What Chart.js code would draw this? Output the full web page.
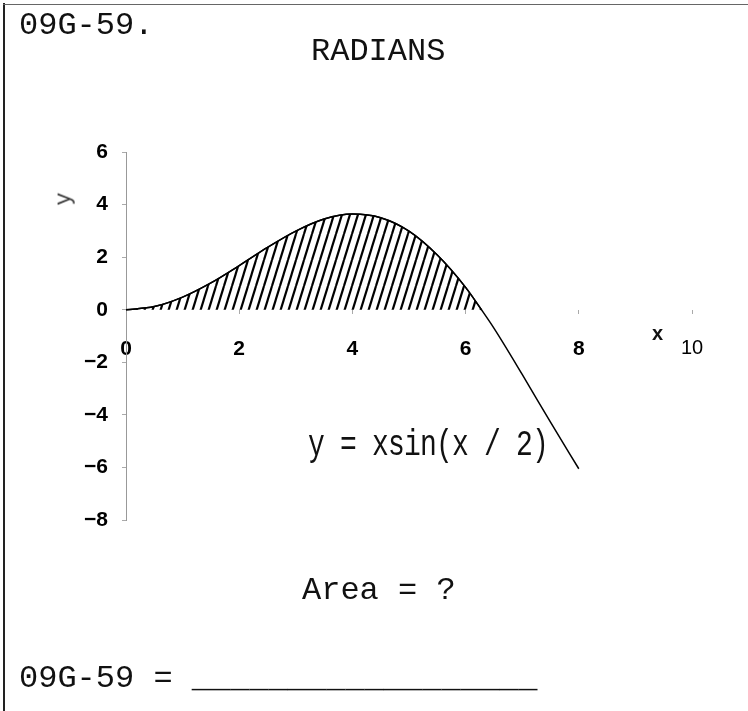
<!DOCTYPE html>
<html>
<head>
<meta charset="utf-8">
<title>09G-59 Radians</title>
<script src="https://cdn.jsdelivr.net/npm/chart.js@4.4.1/dist/chart.umd.min.js"></script>
<style>
    body { margin: 0; background: #fff; }
    #page { position: relative; width: 748px; height: 711px; overflow: hidden; background: #fff; }
    #page canvas { position: absolute; left: 0; top: 0; }
    .frame { position: absolute; background: #222; }
    .txt {
        position: absolute;
        white-space: pre;
        font-family: "Liberation Mono", "Courier New", monospace;
        font-size: 32px;
        line-height: 32px;
        color: #111;
    }
</style>
</head>
<body>
<div id="page">
    <canvas id="areaChart" width="748" height="711"></canvas>
    <div class="frame" style="left:3px; top:3px; width:2px; height:708px;"></div>
    <div class="frame" style="left:3px; top:4px; width:745px; height:1px; background:#666;"></div>

    <div class="txt" style="left:19px; top:10px;">09G-59.</div>
    <div class="txt" style="left:311px; top:36px;">RADIANS</div>
    <div class="txt" style="left:308px; top:434px; font-size:28px; line-height:28px; letter-spacing:-0.8px; transform:scaleY(1.3); transform-origin:0 21.5px;">y = xsin(x / 2)</div>
    <div class="txt" style="left:302px; top:575px;">Area = ?</div>
    <div class="txt" style="left:19px; top:663px;">09G-59 = __________________</div>

    <div class="txt" style="left:652px; top:323px; font-family:'Liberation Sans', Arial, sans-serif; font-weight:bold; font-size:20px; line-height:20px;">x</div>
    <div class="txt" style="left:58px; top:188px; font-size:22px; line-height:22px; color:#333; transform:rotate(-90deg);">y</div>
</div>

<script>
// Curve y = x sin(x/2)
const xValues = [0, 0.5, 1, 1.5, 2, 2.5, 3, 3.5, 4, 4.5, 5, 5.5, 6, 6.28, 6.5, 7, 7.5, 8];
const yValues = [0, 0.12, 0.48, 1.02, 1.68, 2.37, 2.99, 3.45, 3.64, 3.50, 2.99, 2.08, 0.85, 0, -0.70, -2.46, -4.28, -6.05];

// Hatched area runs from x = 0 to where the curve crosses zero
const shadeEnd = 6.28;

// Tick labels
const xTicks = [0, 2, 4, 6, 8, 10];
const yTicks = [-8, -6, -4, -2, 0, 2, 4, 6];

// Diagonal hatch pattern for the area under the curve
function makeHatch() {
    const tile = document.createElement('canvas');
    tile.width = 8;
    tile.height = 26;
    const g = tile.getContext('2d');
    g.strokeStyle = '#000';
    g.lineWidth = 2.2;
    [-8, 0, 8].forEach(dx => {
        g.beginPath();
        g.moveTo(dx, 26);
        g.lineTo(dx + 8, 0);
        g.stroke();
    });
    return g.createPattern(tile, 'repeat');
}

function minusSign(v) {
    return v < 0 ? '\u2212' + Math.abs(v) : String(v);
}

document.addEventListener('DOMContentLoaded', function() {
    const curve = xValues.map((x, i) => ({ x: x, y: yValues[i] }));
    const shaded = curve.filter(p => p.x <= shadeEnd);
    const ctx = document.getElementById('areaChart').getContext('2d');

    new Chart(ctx, {
        type: 'line',
        data: {
            datasets: [{
                data: curve,
                borderColor: '#000',
                borderWidth: 1.5,
                pointRadius: 0,
                fill: false,
                cubicInterpolationMode: 'monotone'
            }, {
                data: shaded,
                borderWidth: 1.5,
                borderColor: '#000',
                backgroundColor: makeHatch(),
                pointRadius: 0,
                fill: 'origin',
                cubicInterpolationMode: 'monotone'
            }]
        },
        options: {
            responsive: false,
            animation: false,
            layout: {
                padding: { left: 0, top: 152, right: 56, bottom: 191 }
            },
            plugins: {
                legend: { display: false },
                tooltip: { enabled: false }
            },
            scales: {
                x: {
                    type: 'linear',
                    position: { y: 0 },
                    min: 0,
                    max: 10,
                    afterBuildTicks: scale => { scale.ticks = xTicks.map(v => ({ value: v })); },
                    border: { display: false },
                    grid: { drawOnChartArea: false, drawTicks: true, tickLength: 4, color: '#aaa' },
                    ticks: {
                        padding: 23,
                        color: '#000',
                        maxRotation: 0,
                        callback: v => minusSign(v),
                        font: c => (c.tick && c.tick.value === 10)
                            ? { family: 'Liberation Sans', size: 20, weight: 'normal' }
                            : { family: 'Liberation Sans', size: 21, weight: 'bold' }
                    }
                },
                y: {
                    type: 'linear',
                    position: 'left',
                    min: -8,
                    max: 6,
                    afterBuildTicks: scale => { scale.ticks = yTicks.map(v => ({ value: v })); },
                    afterFit: scale => { scale.width = 126; },
                    border: { display: true, color: '#999', width: 1, dash: [2, 3] },
                    grid: { drawOnChartArea: false, drawTicks: true, tickLength: 4, color: '#aaa' },
                    ticks: {
                        padding: 14,
                        color: '#000',
                        callback: v => minusSign(v),
                        font: { family: 'Liberation Sans', size: 21, weight: 'bold' }
                    }
                }
            }
        }
    });
});
</script>
</body>
</html>
